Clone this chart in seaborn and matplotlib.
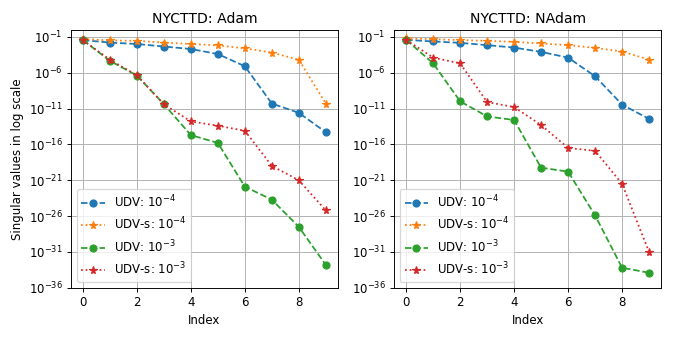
import numpy as np
import pandas as pd
import matplotlib
matplotlib.use("Agg")
import matplotlib.pyplot as plt
import seaborn as sns

# log10 of the singular values
index = list(range(10))
adam_udv_4 = [-1.46, -1.8, -2.0, -2.35, -2.7, -3.4, -5.1, -10.3, -11.6, -14.3]
adam_udvs_4 = [-1.3, -1.5, -1.56, -1.8, -2.0, -2.2, -2.6, -3.2, -4.2, -10.3]
adam_udv_3 = [-1.46, -4.35, -6.4, -10.4, -14.7, -15.8, -21.9, -23.7, -27.5, -32.8]
adam_udvs_3 = [-1.46, -4.2, -6.35, -10.4, -12.8, -13.4, -14.1, -19.0, -21.0, -25.2]

nadam_udv_4 = [-1.42, -1.65, -1.84, -2.16, -2.5, -3.1, -3.9, -6.5, -10.45, -12.45]
nadam_udvs_4 = [-1.23, -1.33, -1.46, -1.56, -1.7, -1.93, -2.16, -2.54, -3.05, -4.17]
nadam_udv_3 = [-1.42, -4.7, -10.0, -12.1, -12.6, -19.25, -19.8, -25.9, -33.2, -33.9]
nadam_udvs_3 = [-1.42, -3.9, -4.7, -10.1, -10.8, -13.3, -16.5, -16.9, -21.5, -31.0]

labels = ['UDV: $10^{-4}$', 'UDV-s: $10^{-4}$', 'UDV: $10^{-3}$', 'UDV-s: $10^{-3}$']
colors = ['#1f77b4', '#ff7f0e', '#2ca02c', '#d62728']
markers = ['o', '*', 'o', '*']
lstyles = ['--', ':', '--', ':']

panels = [
    ('NYCTTD: Adam', [adam_udv_4, adam_udvs_4, adam_udv_3, adam_udvs_3]),
    ('NYCTTD: NAdam', [nadam_udv_4, nadam_udvs_4, nadam_udv_3, nadam_udvs_3]),
]

DPI = 84.25
fig, axes = plt.subplots(1, 2, figsize=(8, 4), dpi=DPI)
fig.subplots_adjust(left=0.105, right=0.981, bottom=0.146, top=0.912, wspace=0.21)

for ax, (title, series) in zip(axes, panels):
    for vals, lab, c, m, ls in zip(series, labels, colors, markers, lstyles):
        df = pd.DataFrame({'Index': index, 'value': 10.0 ** np.array(vals)})
        sns.lineplot(data=df, x='Index', y='value', ax=ax, color=c, marker=m,
                     linestyle=ls, markersize=6 if m == 'o' else 7,
                     markeredgecolor=c, markeredgewidth=1.0, label=lab)
    ax.set_yscale('log')
    ax.set_ylim(1e-36, 1e0)
    ax.set_yticks([10.0 ** k for k in range(-36, 0, 5)])
    ax.minorticks_off()
    ax.set_xticks([0, 2, 4, 6, 8])
    ax.set_xlim(-0.45, 9.45)
    ax.grid(True)
    ax.set_title(title)
    ax.set_xlabel('Index')
    ax.set_ylabel('')
    ax.legend(loc='lower left')

axes[0].set_ylabel('Singular values in log scale')

plt.savefig('out.png', dpi=DPI)
plt.close()
